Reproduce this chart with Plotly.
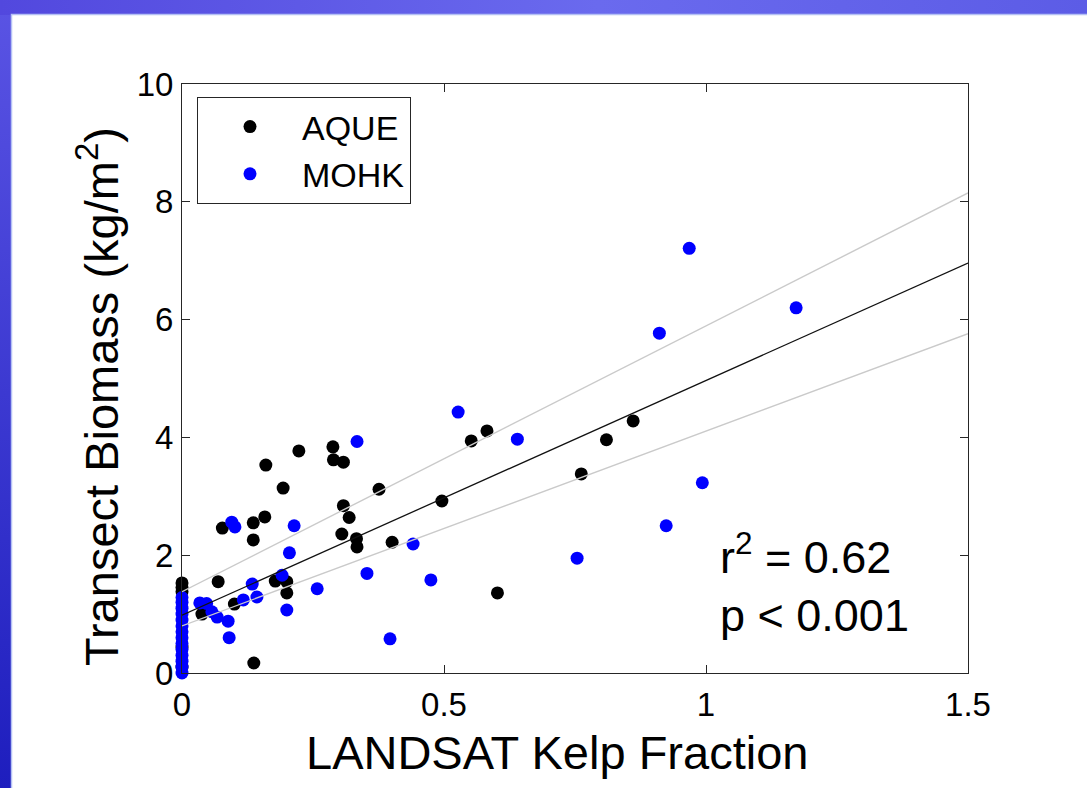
import base64
import plotly.graph_objects as go

# ---- data -------------------------------------------------------------
aque_x = [0, 0, 0, 0, 0,
          0.038, 0.069, 0.077, 0.100, 0.136, 0.136, 0.137, 0.158, 0.160, 0.178,
          0.193, 0.200, 0.200, 0.223, 0.288, 0.289, 0.308, 0.308, 0.319, 0.305,
          0.333, 0.334, 0.376, 0.401, 0.496, 0.552, 0.582, 0.602, 0.762, 0.810,
          0.861]
aque_y = [1.53, 1.45, 1.38, 0.44, 0.10,
          1.00, 1.55, 2.46, 1.17, 2.55, 2.26, 0.17, 2.65, 3.53, 1.56,
          3.14, 1.55, 1.36, 3.77, 3.84, 3.62, 3.58, 2.84, 2.64, 2.36,
          2.28, 2.14, 3.12, 2.22, 2.92, 3.94, 4.11, 1.36, 3.38, 3.96,
          4.28]

mohk_x = [0, 0, 0, 0, 0, 0, 0, 0, 0, 0, 0, 0, 0, 0,
          0.034, 0.047, 0.057, 0.067, 0.088, 0.090, 0.095, 0.101, 0.117, 0.134,
          0.143, 0.191, 0.200, 0.205, 0.214, 0.258, 0.334, 0.353, 0.397, 0.441,
          0.475, 0.527, 0.640, 0.754, 0.911, 0.924, 0.968, 0.993, 1.172]
mohk_y = [0.00, 0.10, 0.20, 0.30, 0.40, 0.50, 0.60, 0.70, 0.80, 0.90, 1.00, 1.10, 1.20, 1.28,
          1.19, 1.18, 1.04, 0.95, 0.88, 0.60, 2.56, 2.48, 1.24, 1.51,
          1.29, 1.66, 1.07, 2.04, 2.50, 1.43, 3.93, 1.69, 0.58, 2.19,
          1.58, 4.43, 3.97, 1.95, 5.77, 2.50, 7.21, 3.23, 6.20]

# least-squares fit and its confidence bounds
fit_x = [0, 1.5]
fit_y = [0.98, 6.96]
upper_y = [1.38, 8.15]
lower_y = [0.80, 5.76]

x_ticks = [0, 0.5, 1, 1.5]
x_tick_text = ["0", "0.5", "1", "1.5"]
y_ticks = [0, 2, 4, 6, 8, 10]
y_tick_text = ["0", "2", "4", "6", "8", "10"]

r2_text = "r<sup>2</sup> = 0.62"
p_text = "p &lt; 0.001"

# ---- geometry ---------------------------------------------------------
FIG_W, FIG_H = 1087, 788
L, R, T, B = 182, 119, 84, 115
W = FIG_W - L - R
H = FIG_H - T - B
FONT = "Liberation Sans, Arial, Helvetica, sans-serif"
AXIS_COL = "#262626"


def px(xp):
    return (xp - L) / W


def py(yp):
    return 1 - (yp - T) / H


# slide background: blue gradient frame with white panel
svg = f"""<svg xmlns="http://www.w3.org/2000/svg" width="{FIG_W}" height="{FIG_H}" viewBox="0 0 {FIG_W} {FIG_H}" preserveAspectRatio="none">
<defs>
<linearGradient id="lg" x1="0" y1="0" x2="0" y2="1">
<stop offset="0" stop-color="#5a54e4"/><stop offset="1" stop-color="#1e1ebe"/></linearGradient>
<linearGradient id="tg" x1="0" y1="0" x2="1" y2="0">
<stop offset="0" stop-color="#5248de"/><stop offset="0.55" stop-color="#6a6aee"/><stop offset="1" stop-color="#5c5ce6"/></linearGradient>
</defs>
<rect x="0" y="0" width="{FIG_W}" height="{FIG_H}" fill="url(#lg)"/>
<rect x="0" y="0" width="{FIG_W}" height="15" fill="url(#tg)"/>
<rect x="11.5" y="14.5" width="{FIG_W}" height="{FIG_H}" fill="#ffffff" stroke="#b4c0f4" stroke-width="1.5"/>
</svg>"""
bg_src = "data:image/svg+xml;base64," + base64.b64encode(svg.encode()).decode()

fig = go.Figure()

fig.add_trace(go.Scatter(
    x=aque_x, y=aque_y, mode="markers", name="AQUE",
    marker=dict(color="#000000", size=13, line=dict(width=0)),
    cliponaxis=False,
))
fig.add_trace(go.Scatter(
    x=mohk_x, y=mohk_y, mode="markers", name="MOHK",
    marker=dict(color="#0000ff", size=13, line=dict(width=0)),
    cliponaxis=False,
))
for yy in (upper_y, lower_y):
    fig.add_trace(go.Scatter(
        x=fit_x, y=yy, mode="lines", showlegend=False, hoverinfo="skip",
        line=dict(color="#cacaca", width=1.4),
    ))
fig.add_trace(go.Scatter(
    x=fit_x, y=fit_y, mode="lines", showlegend=False, hoverinfo="skip",
    line=dict(color="#111111", width=1.3),
))

axis_common = dict(
    showgrid=False, zeroline=False, showline=True, linecolor=AXIS_COL,
    linewidth=1, mirror="ticks", ticks="inside", ticklen=8, tickwidth=1,
    tickcolor=AXIS_COL, tickfont=dict(family=FONT, size=33, color="#000000"),
)

fig.update_layout(
    width=FIG_W, height=FIG_H,
    margin=dict(l=L, r=R, t=T, b=B, pad=0),
    paper_bgcolor="#ffffff",
    plot_bgcolor="rgba(0,0,0,0)",
    font=dict(family=FONT, color="#000000"),
    xaxis=dict(range=[0, 1.5], tickvals=x_ticks, ticktext=x_tick_text,
               ticklabelstandoff=2, **axis_common),
    yaxis=dict(range=[0, 10], tickvals=y_ticks, ticktext=y_tick_text,
               ticklabelstandoff=1, **axis_common),
    legend=dict(
        x=px(197), y=py(97), xanchor="left", yanchor="top",
        bgcolor="#ffffff", bordercolor=AXIS_COL, borderwidth=1,
        font=dict(family=FONT, size=34, color="#000000"),
        itemwidth=94, tracegroupgap=0,
    ),
    images=[dict(
        source=bg_src, xref="paper", yref="paper",
        x=-L / W, y=1 + T / H, sizex=FIG_W / W, sizey=FIG_H / H,
        xanchor="left", yanchor="top", sizing="stretch", layer="below",
    )],
    annotations=[
        dict(text="LANDSAT Kelp Fraction", xref="paper", yref="paper",
             x=px(557), y=py(752), xanchor="center", yanchor="middle",
             showarrow=False, font=dict(family=FONT, size=47)),
        dict(text="Transect Biomass (kg/m<sup>2</sup>)", xref="paper", yref="paper",
             x=px(98), y=py(397), xanchor="center", yanchor="middle",
             textangle=-90, showarrow=False, font=dict(family=FONT, size=47)),
        dict(text=r2_text + "<br>" + p_text, xref="paper", yref="paper",
             x=px(718), y=py(583), xanchor="left", yanchor="middle", align="left",
             showarrow=False, font=dict(family=FONT, size=45)),
    ],
    hovermode=False,
)

fig.write_html("out.html")
